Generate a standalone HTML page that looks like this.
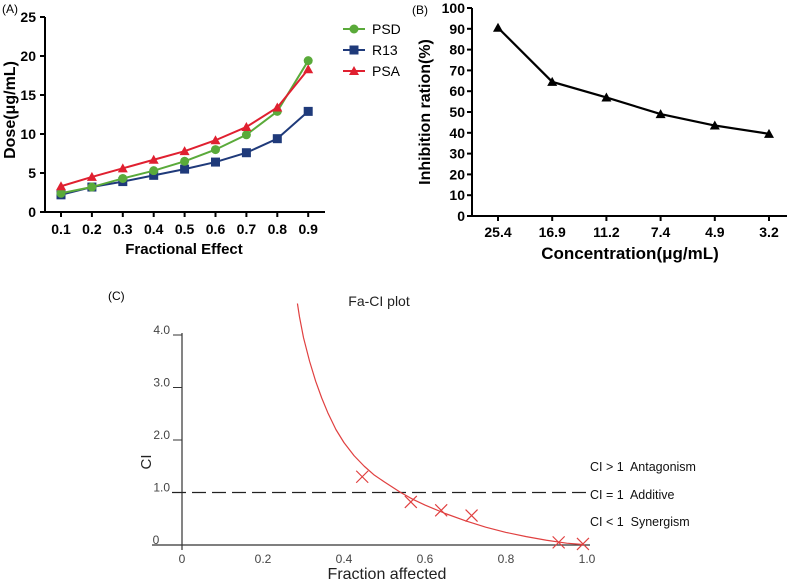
<!DOCTYPE html>
<html><head><meta charset="utf-8"><style>
body{margin:0;background:#fff;width:800px;height:584px;overflow:hidden}
svg{display:block;font-family:"Liberation Sans",Arial,sans-serif}
</style></head><body>
<svg id="s" width="800" height="584" viewBox="0 0 800 584">
<g id="ga"></g>
<g id="gb"></g>
<g id="gc"></g>
</svg>
<script>
// Chart A data
const aCats=["0.1","0.2","0.3","0.4","0.5","0.6","0.7","0.8","0.9"];
const aPSD=[2.4,3.2,4.3,5.3,6.5,8.0,9.9,12.9,19.4];
const aR13=[2.2,3.2,3.9,4.7,5.5,6.4,7.6,9.4,12.9];
const aPSA=[3.3,4.5,5.6,6.7,7.8,9.2,10.9,13.4,18.3];
const aYTicks=[0,5,10,15,20,25];
// Chart B data
const bCats=["25.4","16.9","11.2","7.4","4.9","3.2"];
const bVals=[90.5,64.5,57,49,43.5,39.5];
const bYTicks=[0,10,20,30,40,50,60,70,80,90,100];
// Chart C data
const cPtsX=[0.445,0.565,0.64,0.715,0.93,0.99];
const cPtsY=[1.3,0.82,0.66,0.56,0.05,0.02];
const cCurveX=[0.285,0.29,0.3,0.315,0.33,0.345,0.36,0.38,0.4,0.425,0.45,0.475,0.5,0.54,0.57,0.6,0.65,0.7,0.75,0.8,0.85,0.9,0.95,0.99];
const cCurveY=[4.6,4.35,3.95,3.5,3.12,2.8,2.52,2.2,1.95,1.7,1.5,1.33,1.2,1.0,0.87,0.76,0.6,0.46,0.34,0.24,0.16,0.09,0.035,0.01];
const cYTicks=[0,1,2,3,4];
const cYLabels=["0","1.0","2.0","3.0","4.0"];
const cXTicks=[0,0.2,0.4,0.6,0.8,1.0];
const cXLabels=["0","0.2","0.4","0.6","0.8","1.0"];

const NS="http://www.w3.org/2000/svg";
function mk(p,t,a,txt){const e=document.createElementNS(NS,t);for(const k in a)e.setAttribute(k,a[k]);if(txt!==undefined)e.textContent=txt;p.appendChild(e);return e;}

// ---- A ----
const ga=document.getElementById('ga');
const ax=i=>61+i*30.9, ay=v=>212-v*7.8;
let e;
e=mk(ga,'line',{x1:45,y1:17,x2:45,y2:212,stroke:'#000','stroke-width':2});

e=mk(ga,'line',{x1:45,y1:212,x2:325,y2:212,stroke:'#000','stroke-width':2});

aYTicks.forEach(v=>{mk(ga,'line',{x1:40,y1:ay(v),x2:45,y2:ay(v),stroke:'#000','stroke-width':2});
 e=mk(ga,'text',{x:36,y:ay(v)+5,'text-anchor':'end','font-size':14,'font-weight':'bold'},v);
 });
aCats.forEach((c,i)=>{mk(ga,'line',{x1:ax(i),y1:212,x2:ax(i),y2:217,stroke:'#000','stroke-width':2});
 e=mk(ga,'text',{x:ax(i),y:234,'text-anchor':'middle','font-size':14,'font-weight':'bold'},c);
 });
e=mk(ga,'text',{x:184,y:254,'text-anchor':'middle','font-size':15,'font-weight':'bold'},'Fractional Effect');

e=mk(ga,'text',{x:0,y:0,'text-anchor':'middle','font-size':16,'font-weight':'bold',transform:'translate(15,110) rotate(-90)'},'Dose(μg/mL)');

e=mk(ga,'text',{x:2,y:13,'font-size':12},'(A)');

function marker(g,kind,x,y,col){
 if(kind==='c')return mk(g,'circle',{cx:x,cy:y,r:4.5,fill:col});
 if(kind==='s')return mk(g,'rect',{x:x-4.5,y:y-4.5,width:9,height:9,fill:col});
 return mk(g,'polygon',{points:`${x},${y-5} ${x+5},${y+4} ${x-5},${y+4}`,fill:col});}
const series=[[aR13,'#1f3a7a','s','R13'],[aPSD,'#5aaa3a','c','PSD'],[aPSA,'#e02030','t','PSA']];
series.forEach(([d,col,k,n])=>{
 e=mk(ga,'polyline',{points:d.map((v,i)=>ax(i)+','+ay(v)).join(' '),fill:'none',stroke:col,'stroke-width':2});
 
 d.forEach((v,i)=>{e=marker(ga,k,ax(i),ay(v),col);});
});
[['PSD','#5aaa3a','c',29],['R13','#1f3a7a','s',50],['PSA','#e02030','t',71]].forEach(([n,col,k,y])=>{
 mk(ga,'line',{x1:343,y1:y,x2:365,y2:y,stroke:col,'stroke-width':2});marker(ga,k,354,y,col);
 e=mk(ga,'text',{x:372,y:y+5,'font-size':14},n);
 });

// ---- B ----
const gb=document.getElementById('gb');
const bx=i=>498+i*54.2, by=v=>216-v*2.08;
mk(gb,'line',{x1:472,y1:8,x2:472,y2:216,stroke:'#000','stroke-width':2});
mk(gb,'line',{x1:472,y1:216,x2:787,y2:216,stroke:'#000','stroke-width':2});
bYTicks.forEach(v=>{mk(gb,'line',{x1:467,y1:by(v),x2:472,y2:by(v),stroke:'#000','stroke-width':2});
 e=mk(gb,'text',{x:465,y:by(v)+5,'text-anchor':'end','font-size':14,'font-weight':'bold'},v);
 });
bCats.forEach((c,i)=>{mk(gb,'line',{x1:bx(i),y1:216,x2:bx(i),y2:221,stroke:'#000','stroke-width':2});
 e=mk(gb,'text',{x:bx(i),y:237,'text-anchor':'middle','font-size':14,'font-weight':'bold'},c);
 });
e=mk(gb,'polyline',{points:bVals.map((v,i)=>bx(i)+','+by(v)).join(' '),fill:'none',stroke:'#000','stroke-width':2.2});

bVals.forEach((v,i)=>{e=marker(gb,'t',bx(i),by(v),'#000');});
e=mk(gb,'text',{x:630,y:259,'text-anchor':'middle','font-size':17,'font-weight':'bold'},'Concentration(μg/mL)');

e=mk(gb,'text',{x:0,y:0,'text-anchor':'middle','font-size':16,'font-weight':'bold',transform:'translate(430,112) rotate(-90)'},'Inhibition ration(%)');

e=mk(gb,'text',{x:412,y:14,'font-size':12},'(B)');


// ---- C ----
const gc=document.getElementById('gc');
const cx=v=>182+v*405, cy=v=>545-v*52.5;
mk(gc,'line',{x1:182,y1:333,x2:182,y2:550,stroke:'#333','stroke-width':1.2});
mk(gc,'line',{x1:152,y1:545,x2:590,y2:545,stroke:'#333','stroke-width':1.2});
cYTicks.forEach((v,i)=>{mk(gc,'line',{x1:173,y1:cy(v),x2:182,y2:cy(v),stroke:'#333'});
 e=mk(gc,'text',{x:i===0?156:170,y:cy(v)-1,'text-anchor':'end','font-size':12,fill:'#444'},cYLabels[i]);
 if(i===0)e.setAttribute('text-anchor','middle');
 });
cXTicks.forEach((v,i)=>{
 e=mk(gc,'text',{x:cx(v),y:563,'text-anchor':'middle','font-size':12,fill:'#444'},cXLabels[i]);
 });
e=mk(gc,'line',{x1:172,y1:cy(1),x2:587,y2:cy(1),stroke:'#222','stroke-width':1.3,'stroke-dasharray':'14,6'});

e=mk(gc,'polyline',{points:cCurveX.map((x,i)=>cx(x)+','+cy(cCurveY[i])).join(' '),fill:'none',stroke:'#e04040','stroke-width':1.2,'stroke-linejoin':'round'});

cPtsX.forEach((x,i)=>{const X=cx(x),Y=cy(cPtsY[i]);
 e=mk(gc,'path',{d:`M${X-6},${Y-6}L${X+6},${Y+6}M${X+6},${Y-6}L${X-6},${Y+6}`,stroke:'#e04040','stroke-width':1.2});
 });
[['CI > 1  Antagonism',471],['CI = 1  Additive',499],['CI < 1  Synergism',526]].forEach(([t,y])=>{
 e=mk(gc,'text',{x:590,y:y,'font-size':12.5,fill:'#111','xml:space':'preserve'},t);
 e.setAttribute('style','white-space:pre');
 });
e=mk(gc,'text',{x:379,y:306,'text-anchor':'middle','font-size':14,fill:'#222'},'Fa-CI plot');

e=mk(gc,'text',{x:387,y:579,'text-anchor':'middle','font-size':16,fill:'#222'},'Fraction affected');

e=mk(gc,'text',{x:0,y:0,'text-anchor':'middle','font-size':15,fill:'#222',transform:'translate(151,462) rotate(-90)'},'CI');

e=mk(gc,'text',{x:108,y:300,'font-size':12},'(C)');

</script>
</body></html>
